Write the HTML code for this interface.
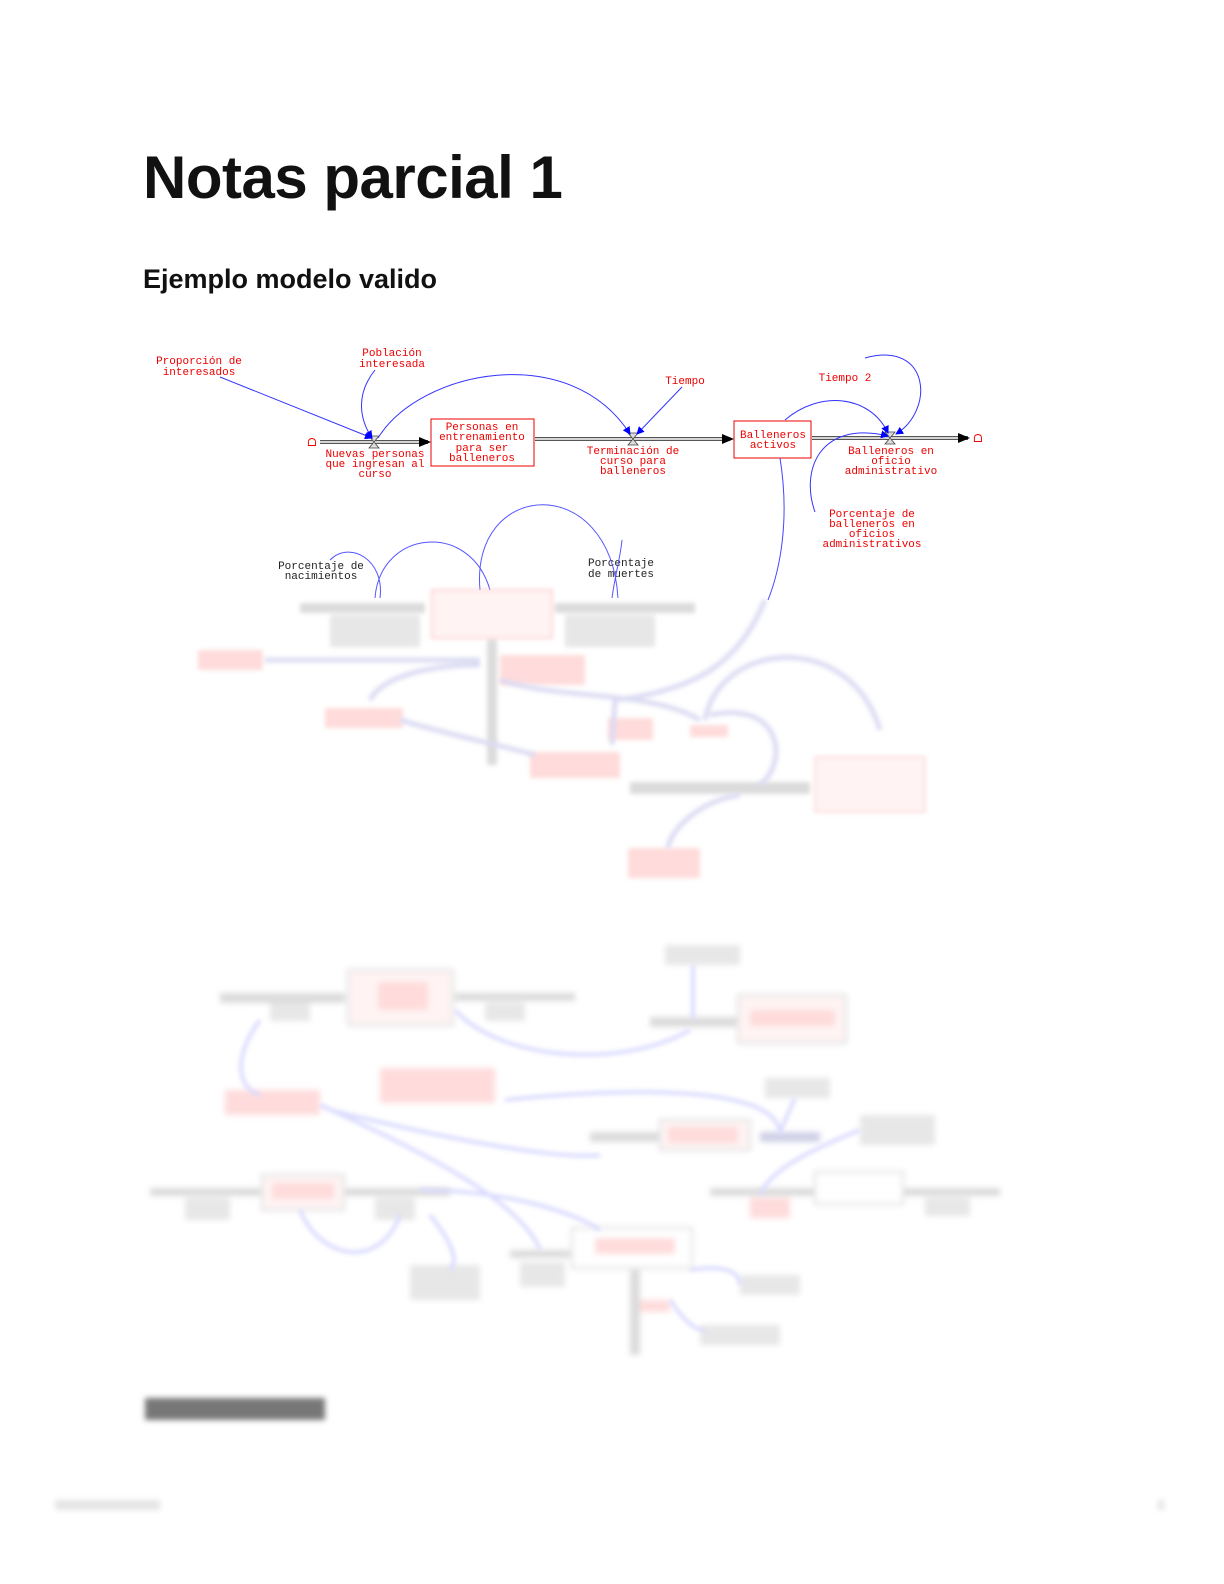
<!DOCTYPE html>
<html><head><meta charset="utf-8">
<style>
html,body{margin:0;padding:0;background:#fff;}
body{width:1224px;height:1584px;position:relative;overflow:hidden;font-family:"Liberation Sans",sans-serif;}
h1{position:absolute;left:143px;top:143px;margin:0;font-size:60px;font-weight:bold;letter-spacing:-0.5px;color:#111;}
h2{position:absolute;left:143px;top:264px;margin:0;font-size:27px;font-weight:bold;color:#111;}
.t{font-family:"Liberation Mono",monospace;font-size:11px;fill:#e00;}
.k{font-family:"Liberation Mono",monospace;font-size:11px;fill:#222;}
</style></head><body>
<h1>Notas parcial 1</h1>
<h2>Ejemplo modelo valido</h2>
<svg width="1224" height="1584" style="position:absolute;left:0;top:0">
<defs>
<marker id="a" markerWidth="8" markerHeight="8" refX="7" refY="4" orient="auto"><path d="M0,0L8,4L0,8z" fill="#00f"/></marker>
<filter id="bl"><feGaussianBlur stdDeviation="3"/></filter>
<filter id="bl2"><feGaussianBlur stdDeviation="2"/></filter>
</defs>
<g fill="none">
<line x1="320" y1="442" x2="428" y2="442" stroke="#555" stroke-width="4"/><line x1="320" y1="442" x2="428" y2="442" stroke="#fff" stroke-width="1.5"/>
<line x1="535" y1="439" x2="730" y2="439" stroke="#555" stroke-width="4"/><line x1="535" y1="439" x2="730" y2="439" stroke="#fff" stroke-width="1.5"/>
<line x1="812" y1="438" x2="968" y2="438" stroke="#555" stroke-width="4"/><line x1="812" y1="438" x2="968" y2="438" stroke="#fff" stroke-width="1.5"/>
</g>
<path d="M431,442l-12,-5v10z M734,439l-12,-5v10z M970,438l-12,-5v10z" fill="#000"/>
<rect x="431" y="419" width="103" height="47" fill="#fff" stroke="#e00"/>
<rect x="734" y="421" width="77" height="37" fill="#fff" stroke="#e00"/>
<text class="t" x="312" y="446" text-anchor="middle">ᗝ</text>
<text class="t" x="978" y="442" text-anchor="middle">ᗝ</text>
<path d="M374,442l5,-6h-10z M374,442l5,6h-10z M633,439l5,-6h-10z M633,439l5,6h-10z M890,438l5,-6h-10z M890,438l5,6h-10z" fill="#ddd" stroke="#444" stroke-width=".8"/>
<g stroke="#33f" fill="none" stroke-width="1" marker-end="url(#a)">
<path d="M220,377 L372,438"/>
<path d="M375,370 C355,395 360,420 372,438"/>
<path d="M378,438 C420,370 570,340 630,434"/>
<path d="M682,387 L637,434"/>
<path d="M785,420 C820,390 870,395 888,433"/>
<path d="M865,358 C930,340 935,410 896,434"/>
<path d="M815,512 C800,470 820,420 888,436"/>
</g>
<path d="M780,458 C790,520 780,570 768,600" stroke="#44f" fill="none"/>
<g class="t" text-anchor="middle">
<text x="199" y="364">Proporción de</text><text x="199" y="375">interesados</text>
<text x="392" y="356">Población</text><text x="392" y="367">interesada</text>
<text x="685" y="384">Tiempo</text>
<text x="845" y="381">Tiempo 2</text>
<text x="482" y="430">Personas en</text><text x="482" y="440">entrenamiento</text><text x="482" y="451">para ser</text><text x="482" y="461">balleneros</text>
<text x="773" y="438">Balleneros</text><text x="773" y="448">activos</text>
<text x="375" y="457">Nuevas personas</text><text x="375" y="467">que ingresan al</text><text x="375" y="477">curso</text>
<text x="633" y="454">Terminación de</text><text x="633" y="464">curso para</text><text x="633" y="474">balleneros</text>
<text x="891" y="454">Balleneros en</text><text x="891" y="464">oficio</text><text x="891" y="474">administrativo</text>
<text x="872" y="517">Porcentaje de</text><text x="872" y="527">balleneros en</text><text x="872" y="537">oficios</text><text x="872" y="547">administrativos</text>
</g>
<g class="k" text-anchor="middle">
<text x="321" y="569">Porcentaje de</text><text x="321" y="579">nacimientos</text>
<text x="621" y="566">Porcentaje</text><text x="621" y="577">de muertes</text>
</g>
<g stroke="#55f" fill="none">
<path d="M380,598 C385,560 350,540 330,560"/>
<path d="M375,598 C380,530 470,520 490,590"/>
<path d="M480,590 C470,480 610,470 618,598"/>
<path d="M612,598 C615,575 620,560 622,540"/>
</g>
<g opacity="0.7">
<g filter="url(#bl2)">
<rect x="300" y="603" width="125" height="10" fill="#ccc"/>
<rect x="555" y="603" width="140" height="10" fill="#ccc"/>
<rect x="330" y="615" width="90" height="32" fill="#ddd"/>
<rect x="565" y="615" width="90" height="32" fill="#ddd"/>
<rect x="432" y="590" width="120" height="48" fill="#fee" stroke="#f66"/>
<rect x="198" y="650" width="65" height="20" fill="#fcc"/>
<rect x="500" y="655" width="85" height="30" fill="#fcc"/>
<rect x="325" y="708" width="78" height="20" fill="#fcc"/>
<rect x="608" y="718" width="45" height="22" fill="#fcc"/>
<rect x="690" y="725" width="38" height="12" fill="#fcc"/>
<rect x="530" y="752" width="90" height="26" fill="#fcc"/>
<rect x="487" y="640" width="10" height="125" fill="#ccc"/>
<rect x="630" y="782" width="180" height="12" fill="#ccc"/>
<rect x="815" y="757" width="110" height="55" fill="#fee" stroke="#f99"/>
<rect x="628" y="848" width="72" height="30" fill="#fcc"/>
</g>
<g stroke="#cce" stroke-width="5" fill="none" filter="url(#bl2)">
<path d="M265,660 L480,660"/>
<path d="M480,665 C420,665 380,680 370,700"/>
<path d="M400,720 C450,735 500,745 535,755"/>
<path d="M500,680 C560,700 650,690 700,720"/>
<path d="M765,600 C740,660 700,690 615,700 L612,745"/>
<path d="M705,720 C720,640 850,630 880,730"/>
<path d="M710,715 C780,700 790,760 760,785"/>
<path d="M740,795 C700,800 670,830 668,848"/>
</g>
<g filter="url(#bl)">
<rect x="220" y="993" width="125" height="10" fill="#ccc"/>
<rect x="348" y="970" width="105" height="55" fill="#fee" stroke="#ddd" stroke-width="3"/>
<rect x="378" y="982" width="50" height="28" fill="#fcc"/>
<rect x="455" y="993" width="120" height="8" fill="#ccc"/>
<rect x="270" y="1003" width="40" height="18" fill="#ddd"/>
<rect x="485" y="1003" width="40" height="18" fill="#ddd"/>
<rect x="665" y="945" width="75" height="20" fill="#ddd"/>
<rect x="650" y="1017" width="90" height="10" fill="#ccc"/>
<rect x="738" y="995" width="108" height="48" fill="#fee" stroke="#ddd" stroke-width="3"/>
<rect x="750" y="1010" width="85" height="16" fill="#fcc"/>
<rect x="380" y="1068" width="115" height="35" fill="#fcc"/>
<rect x="225" y="1090" width="95" height="25" fill="#fcc"/>
<rect x="765" y="1078" width="65" height="20" fill="#ddd"/>
<rect x="590" y="1132" width="160" height="10" fill="#ccc"/>
<rect x="660" y="1120" width="90" height="30" fill="#fee" stroke="#ddd" stroke-width="3"/>
<rect x="668" y="1127" width="70" height="16" fill="#fcc"/>
<rect x="760" y="1132" width="60" height="10" fill="#bbd"/>
<rect x="860" y="1115" width="75" height="30" fill="#ddd"/>
<rect x="150" y="1188" width="300" height="8" fill="#ccc"/>
<rect x="262" y="1175" width="82" height="35" fill="#fee" stroke="#ddd" stroke-width="3"/>
<rect x="272" y="1183" width="62" height="16" fill="#fcc"/>
<rect x="185" y="1198" width="45" height="22" fill="#ddd"/>
<rect x="375" y="1198" width="40" height="22" fill="#ddd"/>
<rect x="710" y="1188" width="290" height="8" fill="#ccc"/>
<rect x="815" y="1172" width="88" height="32" fill="#fff" stroke="#ddd" stroke-width="3"/>
<rect x="750" y="1198" width="40" height="20" fill="#fcc"/>
<rect x="925" y="1198" width="45" height="18" fill="#ddd"/>
<rect x="510" y="1250" width="60" height="8" fill="#ccc"/>
<rect x="572" y="1228" width="120" height="40" fill="#fff" stroke="#ddd" stroke-width="3"/>
<rect x="595" y="1238" width="80" height="16" fill="#fcc"/>
<rect x="520" y="1262" width="45" height="25" fill="#ddd"/>
<rect x="410" y="1265" width="70" height="35" fill="#ddd"/>
<rect x="740" y="1275" width="60" height="20" fill="#ddd"/>
<rect x="700" y="1325" width="80" height="20" fill="#ddd"/>
<rect x="630" y="1270" width="10" height="85" fill="#ccc"/>
<rect x="640" y="1300" width="30" height="12" fill="#fcc"/>
</g>
<g stroke="#ccf" stroke-width="4" fill="none" filter="url(#bl2)">
<path d="M260,1020 C230,1060 240,1090 260,1095"/>
<path d="M455,1010 C500,1060 620,1070 690,1030"/>
<path d="M693,965 L693,1020"/>
<path d="M505,1100 C600,1090 780,1080 780,1135"/>
<path d="M330,1110 C450,1140 560,1160 600,1155"/>
<path d="M320,1105 C420,1150 520,1200 540,1250"/>
<path d="M795,1098 L780,1132"/>
<path d="M860,1130 C810,1150 770,1170 760,1195"/>
<path d="M300,1210 C320,1260 380,1270 400,1215"/>
<path d="M430,1215 C450,1240 460,1260 450,1270"/>
<path d="M690,1270 C720,1265 740,1270 740,1285"/>
<path d="M670,1300 C690,1330 700,1330 705,1330"/>
<path d="M600,1230 C570,1210 500,1190 420,1190"/>
</g>
</g>
<g filter="url(#bl)">
<rect x="145" y="1398" width="180" height="22" fill="#777"/>
<rect x="55" y="1500" width="105" height="10" fill="#e4e4e4"/>
<rect x="1158" y="1500" width="6" height="10" fill="#e4e4e4"/>
</g>
</svg>
</body></html>
